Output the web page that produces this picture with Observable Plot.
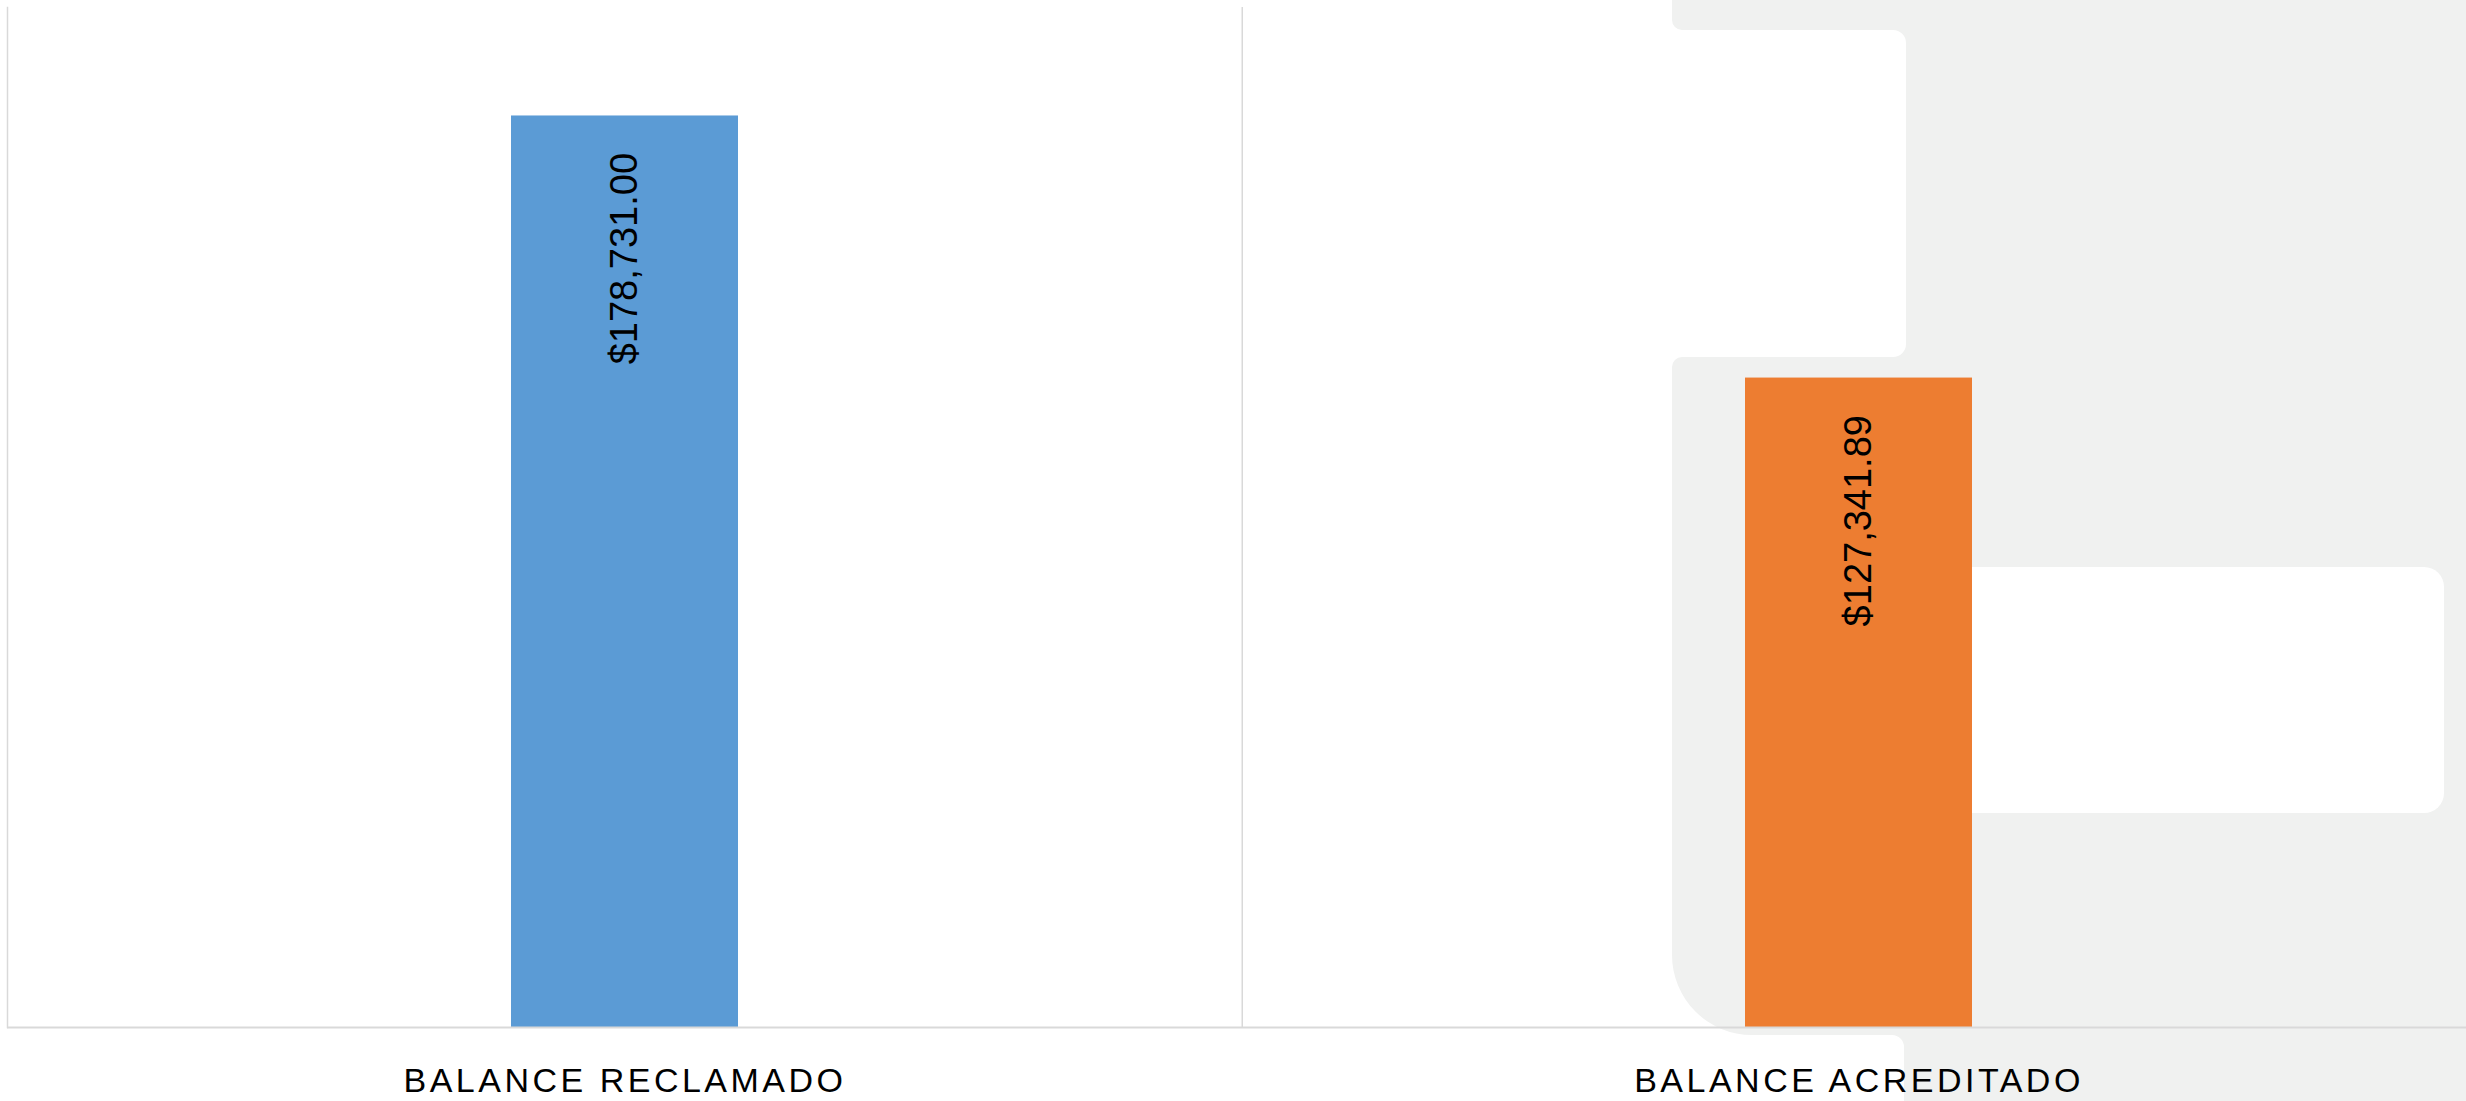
<!DOCTYPE html>
<html>
<head>
<meta charset="utf-8">
<script src="https://cdn.jsdelivr.net/npm/d3@7"></script>
<script src="https://cdn.jsdelivr.net/npm/@observablehq/plot@0.6"></script>
<style>
html, body { margin: 0; padding: 0; background: #ffffff; }
#wrap { position: relative; width: 2466px; height: 1101px; overflow: hidden; }
#bg { position: absolute; left: 0; top: 0; }
#chart { position: absolute; left: 0; top: 0; }
#chart g[aria-label="x-axis tick label"] text { letter-spacing: 3.5px; }
</style>
</head>
<body>
<div id="wrap">
  <svg id="bg" width="2466" height="1101" aria-hidden="true">
    <path fill="#F0F1F0" d="M1672,0 L1672,20 A10,10 0 0 0 1682,30 L1893,30 A13,13 0 0 1 1906,43 L1906,344 A13,13 0 0 1 1893,357 L1682,357 A10,10 0 0 0 1672,367 L1672,955 A80,80 0 0 0 1752,1035 L1892,1035 A12,12 0 0 1 1904,1047 L1904,1101 L2466,1101 L2466,0 Z"/>
    <rect x="1930" y="567" width="514" height="246" rx="20" fill="#FFFFFF"/>
  </svg>
  <div id="chart"></div>
</div>
<script>
// ---- data ----
const categories = ["BALANCE RECLAMADO", "BALANCE ACREDITADO"];
const values = [178731.00, 127341.89];
const colors = ["#5B9BD5", "#ED7D31"];
const yDomain = [0, 200000];

const data = categories.map((c, i) => ({category: c, value: values[i]}));
const money = d3.format(",.2f");

// layout
const W = 2466, H = 1101;
const xRange = [7, 2476];
const padIn = 0.8162, padOut = 0.4081;
const step = d3.scaleBand().domain(categories).range(xRange)
  .paddingInner(padIn).paddingOuter(padOut).step();
const lineColor = "#D9D9D9";

const chart = Plot.plot({
  width: W,
  height: H,
  marginLeft: 7,
  marginRight: 0,
  marginTop: 7,
  marginBottom: 74,
  style: {background: "none", fontFamily: "'Liberation Sans', sans-serif", overflow: "visible"},
  x: {domain: categories, range: xRange, paddingInner: padIn, paddingOuter: padOut, label: null},
  y: {domain: yDomain, axis: null},
  color: {domain: categories, range: colors},
  marks: [
    Plot.frame({anchor: "left", stroke: lineColor, strokeWidth: 1.5}),
    Plot.ruleX([categories[0]], {x: d => d, dx: step / 2, stroke: lineColor, strokeWidth: 1.5}),
    Plot.barY(data, {x: "category", y: "value", fill: "category"}),
    Plot.ruleY([0], {stroke: lineColor, strokeWidth: 2}),
    Plot.text(data, {
      x: "category", y: "value",
      text: d => "$" + money(d.value),
      rotate: -90, textAnchor: "end", lineAnchor: "middle",
      dy: 37, fontSize: 38, fontFamily: "Liberation Sans", fill: "#000000"
    }),
    Plot.axisX({tickSize: 0, tickPadding: 40, fontSize: 34, fill: "#000000", label: null})
  ]
});
document.getElementById("chart").appendChild(chart);
</script>
</body>
</html>
